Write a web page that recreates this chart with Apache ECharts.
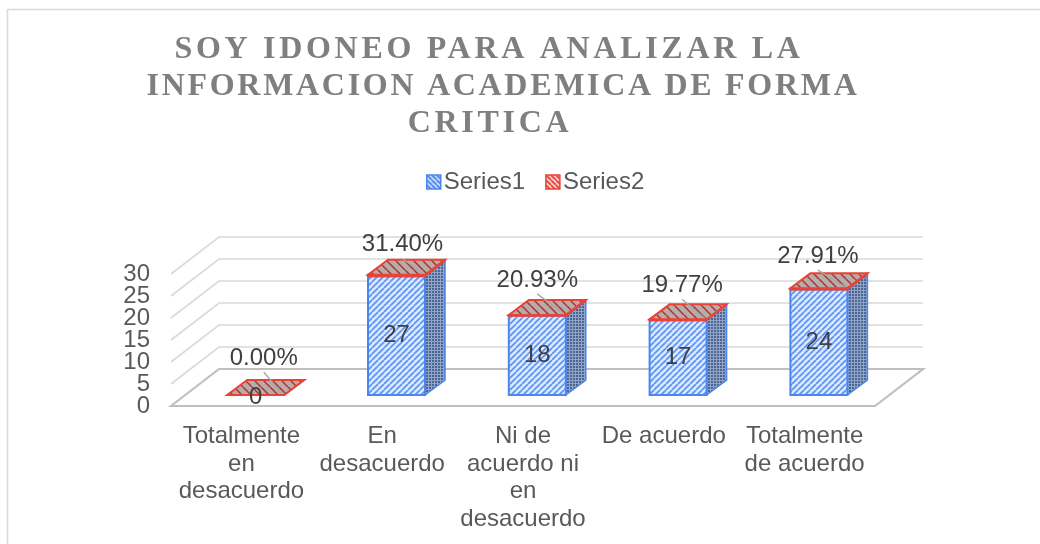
<!DOCTYPE html>
<html>
<head>
<meta charset="utf-8">
<style>html,body{margin:0;padding:0;background:#fff}#chart{width:1040px;height:544px}</style>
<script src="https://cdn.jsdelivr.net/npm/echarts@6/dist/echarts.min.js"></script>
</head>
<body>
<div id="chart"></div>
<script>
const titleLines = ["SOY IDONEO PARA ANALIZAR LA", "INFORMACION ACADEMICA DE FORMA", "CRITICA"];
const categories = ["Totalmente\nen\ndesacuerdo", "En\ndesacuerdo", "Ni de\nacuerdo ni\nen\ndesacuerdo", "De acuerdo", "Totalmente\nde acuerdo"];
const series1 = [0, 27, 18, 17, 24];
const series2 = [0, 0.314, 0.2093, 0.1977, 0.2791];
const yTicks = [0, 5, 10, 15, 20, 25, 30];

const labelNudge = [[5, -2], [3, 5], [-3, 0], [1, 1], [-4, 3]];
const titleLayout = [{ x: 484, top: 27, spacing: 3.7 }, { x: 498, top: 64, spacing: 2.7 }, { x: 485, top: 101, spacing: 3.7 }];

const FONT = '"Liberation Sans", Arial, sans-serif';
const WALL = [48, -37];
const OFFSET = [14.3, -11];
const DEPTH = [20, -15];
const BAR_W = 57;

// Title letter spacing: canvas text state, applied only to the title lines.
const nativeFill = CanvasRenderingContext2D.prototype.fillText;
CanvasRenderingContext2D.prototype.fillText = function (t, x, y, m) {
  const idx = titleLines.indexOf(t);
  if (idx >= 0) {
    const prev = this.letterSpacing;
    this.letterSpacing = titleLayout[idx].spacing + "px";
    nativeFill.call(this, t, x, y);
    this.letterSpacing = prev;
  } else if (m === undefined) nativeFill.call(this, t, x, y);
  else nativeFill.call(this, t, x, y, m);
};

function pattern(size, bg, draw) {
  const c = document.createElement("canvas");
  c.width = c.height = size;
  const g = c.getContext("2d");
  g.fillStyle = bg;
  g.fillRect(0, 0, size, size);
  draw(g, size);
  return { image: c, repeat: "repeat" };
}
function diag(g, s, color, w, up) {
  g.strokeStyle = color;
  g.lineWidth = w;
  for (let k = -s; k <= 2 * s; k += s) {
    g.beginPath();
    if (up) { g.moveTo(k, s); g.lineTo(k + s, 0); }
    else { g.moveTo(k, 0); g.lineTo(k + s, s); }
    g.stroke();
  }
}
const frontFill = pattern(6, "#dbe8ff", (g, s) => diag(g, s, "#5b93f2", 1.7, true));
const sideFill = pattern(3, "#93a5c4", (g) => { g.fillStyle = "#4a6696"; g.fillRect(0, 0, 2, 2); });
const topFill = pattern(9, "#b9abab", (g, s) => diag(g, s, "#a8342c", 1.5, false));
const legendBlue = pattern(5, "#c9dcff", (g, s) => diag(g, s, "#3f7fee", 1.6, false));
const legendRed = pattern(5, "#f7d0cc", (g, s) => diag(g, s, "#e8392c", 1.6, false));

function wallItem(params, api) {
  const v = api.value(0);
  const half = api.size([1, 0])[0] / 2;
  const n = categories.length;
  const a = api.coord([0, v]); a[0] -= half;
  const b = api.coord([n - 1, v]); b[0] += half;
  const bl = [a[0] + WALL[0], a[1] + WALL[1]];
  const br = [b[0] + WALL[0], b[1] + WALL[1]];
  if (v === 0) {
    return { type: "polygon", shape: { points: [a, bl, br, b] },
      style: { fill: "#fff", stroke: "#bfbfbf", lineWidth: 2.2 }, silent: true };
  }
  return { type: "polyline", shape: { points: [a, bl, br] },
    style: { fill: null, stroke: "#d9d9d9", lineWidth: 1.6 }, silent: true };
}

function cuboid(api, base, top, strokeColor, front) {
  const c = api.coord([api.value(0), base]);
  const t = api.coord([api.value(0), top]);
  const x0 = c[0] + OFFSET[0] - BAR_W / 2, x1 = x0 + BAR_W;
  const yb = c[1] + OFFSET[1], yt = t[1] + OFFSET[1];
  const dx = DEPTH[0], dy = DEPTH[1];
  return { x0, x1, yb, yt, children: [
    { type: "polygon", shape: { points: [[x1, yb], [x1 + dx, yb + dy], [x1 + dx, yt + dy], [x1, yt]] },
      style: { fill: sideFill, stroke: strokeColor, lineWidth: 1.5 } },
    { type: "polygon", shape: { points: [[x0, yb], [x1, yb], [x1, yt], [x0, yt]] },
      style: { fill: front, stroke: strokeColor, lineWidth: 2 } }
  ] };
}

function itemS1(params, api) {
  const v = api.value(1);
  if (v === 0) return { type: "group", children: [] };
  return { type: "group", children: cuboid(api, 0, v, "#4a86f0", frontFill).children };
}
function itemS2(params, api) {
  const base = api.value(1), pct = api.value(2);
  const q = cuboid(api, base, base + pct, "#ea4335", "#ea4335");
  const { x0, x1, yt } = q;
  const dx = DEPTH[0], dy = DEPTH[1];
  const midX = (x0 + x1) / 2;
  const nudge = labelNudge[params.dataIndex];
  const lx = midX + nudge[0] + 3, ly = yt + dy - 20 + nudge[1];
  const floorY = api.coord([api.value(0), 0])[1] + OFFSET[1];
  return { type: "group", children: [
    ...q.children,
    { type: "polygon", shape: { points: [[x0, yt], [x1, yt], [x1 + dx, yt + dy], [x0 + dx, yt + dy]] },
      style: { fill: topFill, stroke: "#ea4335", lineWidth: 2 } },
    { type: "line", shape: { x1: lx, y1: ly + 14, x2: x1 - 2, y2: yt - 1 },
      style: { stroke: "#a6a6a6", lineWidth: 1.3 } },
    { type: "text", x: lx, y: ly, style: { text: (pct * 100).toFixed(2) + "%", font: "24px " + FONT, fill: "#404040", align: "center", verticalAlign: "middle" } },
    { type: "text", x: midX, y: base === 0 ? q.yb + 2 : (floorY + q.yb) / 2, style: { text: String(base), font: "24px " + FONT, fill: "#404040", align: "center", verticalAlign: "middle" } }
  ] };
}

const yAxisBase = {
  type: "value", min: 0, max: 30, interval: 5,
  axisLine: { show: false }, axisTick: { show: false }, splitLine: { show: false }
};
const yLabelStyle = { fontFamily: FONT, fontSize: 24, color: "#595959", margin: 21 };

const chart = echarts.init(document.getElementById("chart"), null, { renderer: "canvas" });
chart.setOption({
  animation: false,
  backgroundColor: "#fff",
  textStyle: { fontFamily: FONT },
  graphic: [{ type: "polyline", z: 0, silent: true, shape: { points: [[7.5, 544], [7.5, 9.5], [1040, 9.5]] },
    style: { fill: null, stroke: "#d9d9d9", lineWidth: 1.6 } }],
  title: titleLines.map((line, i) => ({
    text: line, left: titleLayout[i].x, top: titleLayout[i].top, textAlign: "center",
    textStyle: { fontFamily: '"Liberation Serif", serif', fontWeight: "bold", fontSize: 32, lineHeight: 35, color: "#7f7f7f" }
  })),
  legend: {
    top: 165, left: 421, itemWidth: 14, itemHeight: 14, itemGap: 20,
    textStyle: { fontFamily: FONT, fontSize: 24, color: "#595959", padding: [0, 0, 0, -2] },
    data: [
      { name: "Series1", icon: "rect", itemStyle: { color: legendBlue, borderColor: "#4a86f0", borderWidth: 1.5 } },
      { name: "Series2", icon: "rect", itemStyle: { color: legendRed, borderColor: "#ea4335", borderWidth: 1.5 } }
    ]
  },
  grid: { left: 171, top: 274, width: 704, height: 132 },
  xAxis: {
    type: "category", data: categories,
    axisLine: { show: false }, axisTick: { show: false },
    axisLabel: { fontFamily: FONT, fontSize: 24, lineHeight: 27.4, color: "#595959", margin: 17, interval: 0 }
  },
  // The tight 24px labels make ECharts drop either the end labels or their
  // neighbours on one axis, so the end values come from a second identical axis.
  yAxis: [
    { ...yAxisBase, axisLabel: { ...yLabelStyle } },
    { ...yAxisBase, position: "left", axisLabel: { ...yLabelStyle, customValues: [yTicks[0], yTicks[yTicks.length - 1]] } }
  ],
  series: [
    { name: "walls", type: "custom", renderItem: wallItem, data: yTicks.map((v) => [v]), encode: { y: 0 }, clip: false, z: 1, silent: true },
    { name: "Series1", type: "custom", renderItem: itemS1, data: series1.map((v, i) => [i, v]), encode: { x: 0, y: 1 }, clip: false, z: 2, itemStyle: { color: legendBlue } },
    { name: "Series2", type: "custom", renderItem: itemS2, data: series2.map((v, i) => [i, series1[i], v]), encode: { x: 0, y: 1 }, clip: false, z: 3, itemStyle: { color: legendRed } }
  ]
});
</script>
</body>
</html>
